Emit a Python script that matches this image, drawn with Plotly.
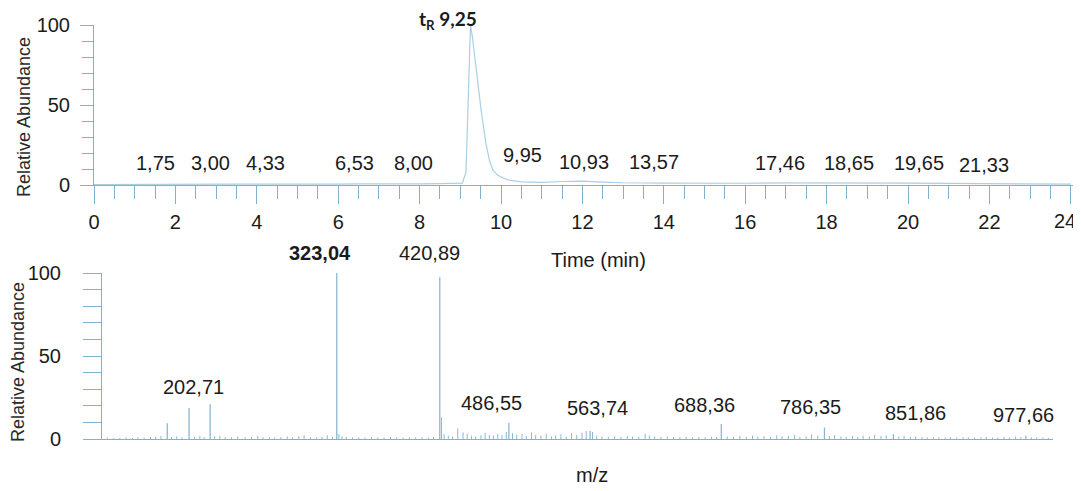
import plotly.graph_objects as go

# ---------------- data ----------------
# Chromatogram (time in min, relative abundance %)
rt_time = [0.0, 0.5, 1.0, 1.5, 2.0, 2.5, 3.0, 3.5, 4.0, 4.5, 5.0, 5.5, 6.0, 6.5, 7.0, 7.5, 8.0, 8.5,
           8.8, 9.05, 9.14, 9.2, 9.25, 9.3, 9.38, 9.51, 9.63, 9.72, 9.8, 9.9, 10.0, 10.16, 10.5,
           11.0, 11.5, 12.0, 12.5, 13.0, 14.0, 15.0, 16.0, 17.0, 18.0, 19.0, 20.0, 21.0, 22.0, 23.0, 24.0]
rt_abund = [0.3, 0.4, 0.4, 0.5, 0.5, 0.6, 0.5, 0.6, 0.6, 0.5, 0.5, 0.6, 0.6, 0.7, 0.6, 0.7, 0.7, 0.8,
            0.8, 1.2, 8.0, 60.0, 100.0, 92.0, 74.0, 47.0, 26.0, 15.0, 9.4, 6.5, 5.0, 3.2, 2.0,
            1.6, 2.2, 2.4, 1.8, 1.4, 1.2, 1.0, 1.1, 1.3, 1.4, 1.3, 1.2, 1.0, 0.8, 0.6, 0.5]

rt_ticks = [0, 2, 4, 6, 8, 10, 12, 14, 16, 18, 20, 22, 24]
rt_labels = [1.75, 3.00, 4.33, 6.53, 8.00, 9.95, 10.93, 13.57, 17.46, 18.65, 19.65, 21.33]
rt_main = 9.25

# Mass spectrum: labelled peaks
ms_peak_mz = [162.0, 182.7, 202.71, 323.04, 420.89, 486.55, 563.74, 688.36, 786.35, 851.86, 977.66]
ms_peak_int = [9.5, 18.7, 21.0, 100.0, 97.5, 9.8, 5.0, 9.0, 7.0, 3.0, 2.0]
ms_labels = [202.71, 323.04, 420.89, 486.55, 563.74, 688.36, 786.35, 851.86, 977.66]

# Mass spectrum: minor peaks
ms_minor_mz = [105, 111, 117, 123, 129, 134, 140, 146, 151, 156, 166, 171, 176, 188, 193, 197, 207, 212,
               217, 223, 229, 236, 242, 248, 253, 259, 264, 270, 276, 281, 287, 292, 298, 304, 309, 314,
               319, 325, 328, 332, 338, 344, 350, 356, 362, 368, 374, 380, 386, 392, 398, 404, 410, 415,
               422.5, 425, 429, 433, 438, 443, 447, 451, 455, 460, 464, 468, 472, 476, 480, 484, 490, 494,
               499, 503, 508, 512, 517, 522, 527, 531, 536, 541, 546, 551, 556, 560, 566, 570, 575, 581,
               587, 593, 599, 604, 610, 616, 620, 625, 631, 637, 643, 649, 655, 661, 667, 673, 679, 684,
               694, 700, 706, 712, 718, 723, 729, 735, 741, 746, 752, 758, 763, 769, 774, 780, 791, 796,
               802, 807, 813, 818, 823, 829, 834, 840, 845, 857, 862, 868, 873, 879, 884, 890, 895, 901,
               906, 912, 918, 923, 929, 935, 940, 946, 951, 957, 962, 968, 973, 983, 988, 994, 999]
ms_minor_int = [0.8, 0.6, 0.7, 0.9, 0.6, 1.0, 0.8, 1.2, 1.4, 1.8, 1.2, 1.6, 1.0, 1.4, 2.0, 1.1, 1.6, 1.9,
                1.2, 1.0, 1.5, 0.9, 1.3, 2.0, 1.1, 1.0, 0.8, 1.2, 1.5, 1.0, 1.8, 2.3, 1.1, 1.0, 1.4, 2.2,
                1.3, 3.0, 1.5, 1.2, 0.9, 1.0, 0.7, 1.1, 0.9, 0.8, 1.2, 1.0, 0.7, 1.1, 0.9, 1.0, 0.8, 1.2,
                13.0, 3.0, 2.0, 1.5, 6.5, 4.0, 3.2, 2.0, 1.5, 2.2, 3.8, 2.5, 2.0, 3.0, 2.4, 4.2, 3.5, 2.6,
                3.0, 1.8, 4.0, 2.5, 2.0, 3.2, 1.6, 2.2, 2.8, 1.5, 3.5, 2.4, 3.8, 4.8, 4.2, 2.0, 1.5, 1.4,
                1.6, 1.3, 1.8, 1.5, 1.4, 3.2, 2.1, 1.5, 1.3, 1.6, 1.2, 1.1, 1.3, 1.0, 1.2, 1.1, 1.4, 1.2,
                1.5, 1.3, 1.8, 1.4, 2.0, 1.5, 1.7, 1.2, 2.2, 1.6, 1.8, 2.5, 1.4, 1.6, 2.8, 2.0, 1.8, 2.4,
                1.5, 1.3, 1.8, 1.2, 2.0, 1.6, 2.5, 1.8, 2.2, 1.6, 2.0, 1.3, 1.5, 1.2, 1.0, 1.1, 1.0, 0.9,
                1.2, 0.8, 1.0, 1.1, 0.9, 1.0, 1.2, 0.8, 1.0, 1.3, 0.9, 1.5, 1.1, 0.9, 1.0, 0.8, 0.7]

# ---------------- style ----------------
OFF = 8  # page body margin in the browser
W, H = 1081 - OFF, 491 - OFF
FONT = "Liberation Sans, Arial, sans-serif"
TXT = "#1b1b1b"
AX = "#7fb2cf"
LINE = "#a9cfe4"
STICK = "#8ab8d2"

def fx(px):
    return (px - OFF) / W

def fy(py):
    return 1 - (py - OFF) / H

def sticks(mz, inten):
    xs, ys = [], []
    for m, v in zip(mz, inten):
        xs += [m, m, None]
        ys += [0, v, None]
    return xs, ys

fig = go.Figure()

fig.add_trace(go.Scatter(x=rt_time, y=rt_abund, mode="lines",
                         line=dict(color=LINE, width=1.2), xaxis="x", yaxis="y",
                         hoverinfo="skip", showlegend=False))

mx, my = sticks(ms_minor_mz, ms_minor_int)
fig.add_trace(go.Scatter(x=mx, y=my, mode="lines", line=dict(color=STICK, width=1),
                         xaxis="x2", yaxis="y2", hoverinfo="skip", showlegend=False))
px_, py_ = sticks(ms_peak_mz, ms_peak_int)
fig.add_trace(go.Scatter(x=px_, y=py_, mode="lines", line=dict(color=STICK, width=1.3),
                         xaxis="x2", yaxis="y2", hoverinfo="skip", showlegend=False))

tickfont = dict(family=FONT, size=20, color=TXT)
# last time tick label is drawn as an annotation so it stays inside the page
rt_ticktext = [str(t) for t in rt_ticks[:-1]] + [""]

fig.update_layout(
    width=W, height=H, margin=dict(l=0, r=0, t=0, b=0, autoexpand=False),
    paper_bgcolor="white", plot_bgcolor="white", showlegend=False,
    xaxis=dict(domain=[fx(94), min(1.0, fx(94 + 24.15 * 40.7))], range=[0, 24.15], automargin=False,
               showgrid=False, zeroline=False, showline=True, linecolor=AX, linewidth=1,
               ticks="outside", tickcolor=AX, ticklen=18, tickwidth=1,
               tickvals=rt_ticks, ticktext=rt_ticktext,
               tickfont=tickfont, anchor="y", ticklabelstandoff=1, ticklabeloverflow="allow",
               minor=dict(dtick=0.5, tick0=0, ticks="outside", ticklen=13, tickcolor=AX, tickwidth=1)),
    yaxis=dict(domain=[fy(185), fy(25)], range=[0, 100], automargin=False,
               showgrid=False, zeroline=False, showline=True, linecolor=AX, linewidth=1,
               ticks="outside", tickcolor=AX, ticklen=13, tickwidth=1,
               tickvals=[0, 50, 100], tickfont=tickfont, anchor="x", ticklabelstandoff=6,
               minor=dict(dtick=10, tick0=0, ticks="outside", ticklen=11, tickcolor=AX, tickwidth=1)),
    xaxis2=dict(domain=[fx(102), fx(1052.5)], range=[100, 1003], automargin=False,
                showgrid=False, zeroline=False, showline=True, linecolor=AX, linewidth=1,
                showticklabels=False, ticks="", anchor="y2"),
    yaxis2=dict(domain=[fy(439), fy(273)], range=[0, 100], automargin=False,
                showgrid=False, zeroline=False, showline=True, linecolor=AX, linewidth=1,
                ticks="outside", tickcolor=AX, ticklen=18, tickwidth=1,
                tickvals=[0, 50, 100], tickfont=tickfont, anchor="x2", ticklabelstandoff=18,
                minor=dict(dtick=10, tick0=0, ticks="outside", ticklen=18, tickcolor=AX, tickwidth=1)),
)

ann = []
ann.append(dict(x=rt_ticks[-1], y=0, xref="x", yref="y", text=str(rt_ticks[-1]),
                showarrow=False, xshift=-6, yshift=-36, yanchor="middle",
                font=dict(family=FONT, size=20, color=TXT)))
# chromatogram labels: pixel offsets (dx, dy) from each peak's retention time at baseline
rt_offsets = [(-10, 22), (-6, 22), (-5, 22), (-5, 22), (-6, 22), (24, 30),
              (45, 23), (8, 23), (-25, 22), (-4, 22), (25, 22), (22, 20)]
for v, (dx, dy) in zip(rt_labels, rt_offsets):
    ann.append(dict(x=v, y=0, xref="x", yref="y", text=f"{v:.2f}".replace(".", ","),
                    showarrow=False, xshift=dx, yshift=dy, yanchor="middle",
                    font=dict(family=FONT, size=20, color=TXT)))
ann.append(dict(x=rt_main, y=100, xref="x", yref="y",
                text="<b>t<sub>R</sub> " + f"{rt_main:.2f}".replace(".", ",") + "</b>",
                showarrow=False, xshift=-22, yshift=5, yanchor="middle",
                font=dict(family="Lato, Liberation Sans, sans-serif", size=19, color=TXT)))

ms_offsets = [(-17, 52), (-17, 186), (-10, 186), (-17, 36), (7, 31), (-17, 34), (-14, 32), (22, 26), (-2, 24)]
for v, (dx, dy) in zip(ms_labels, ms_offsets):
    t = f"{v:.2f}".replace(".", ",")
    if v == 323.04:
        t = "<b>" + t + "</b>"
    ann.append(dict(x=v, y=0, xref="x2", yref="y2", text=t, showarrow=False,
                    xshift=dx, yshift=dy, yanchor="middle",
                    font=dict(family=FONT, size=20, color=TXT)))

# axis titles
ann.append(dict(x=fx(24), y=fy(117), xref="paper", yref="paper", text="Relative Abundance",
                textangle=-90, showarrow=False, xanchor="center", yanchor="middle",
                font=dict(family=FONT, size=18, color="#2a2a2a")))
ann.append(dict(x=fx(18), y=fy(362), xref="paper", yref="paper", text="Relative Abundance",
                textangle=-90, showarrow=False, xanchor="center", yanchor="middle",
                font=dict(family=FONT, size=18, color="#2a2a2a")))
ann.append(dict(x=fx(598), y=fy(260), xref="paper", yref="paper", text="Time (min)",
                showarrow=False, xanchor="center", yanchor="middle",
                font=dict(family=FONT, size=20, color=TXT)))
ann.append(dict(x=fx(592), y=fy(475), xref="paper", yref="paper", text="m/z",
                showarrow=False, xanchor="center", yanchor="middle",
                font=dict(family=FONT, size=20, color=TXT)))

fig.update_layout(annotations=ann)
fig.write_html("out.html")
